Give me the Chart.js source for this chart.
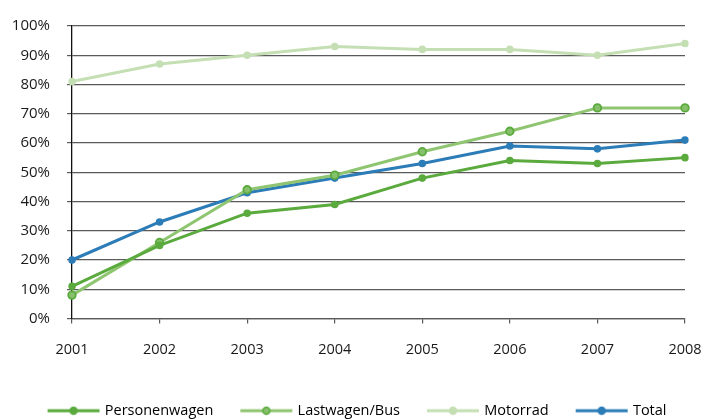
<!DOCTYPE html>
<html>
<head>
<meta charset="utf-8">
<script src="https://cdn.jsdelivr.net/npm/chart.js@4.4.1/dist/chart.umd.min.js"></script>
<style>
  html, body { margin: 0; padding: 0; background: #fff; }
  #wrap { width: 704px; height: 419px; }
</style>
</head>
<body>
<div id="wrap"><canvas id="chart"></canvas></div>
<script>
// data (percent)
const years = ['2001', '2002', '2003', '2004', '2005', '2006', '2007', '2008'];
const personenwagen = [11, 25, 36, 39, 48, 54, 53, 55];
const lastwagenBus = [8, 26, 44, 49, 57, 64, 72, 72];
const motorrad = [81, 87, 90, 93, 92, 92, 90, 94];
const total = [20, 33, 43, 48, 53, 59, 58, 61];
const seriesNames = ['Personenwagen', 'Lastwagen/Bus', 'Motorrad', 'Total'];

const FONT = "'Open Sans', 'DejaVu Sans', sans-serif";

// little line-with-dot images for the legend
function legendIcon(line, fill, border) {
    const c = document.createElement('canvas');
    const ratio = window.devicePixelRatio || 1;
    c.width = 54 * ratio;
    c.height = 12 * ratio;
    const g = c.getContext('2d');
    g.scale(ratio, ratio);
    g.strokeStyle = line;
    g.lineWidth = 3;
    g.beginPath();
    g.moveTo(1, 6);
    g.lineTo(53, 6);
    g.stroke();
    g.beginPath();
    g.arc(27, 6, 3.5, 0, Math.PI * 2);
    g.fillStyle = fill;
    g.fill();
    g.lineWidth = 1.5;
    g.strokeStyle = border;
    g.stroke();
    const img = new Image();
    img.src = c.toDataURL();
    img.width = 54;
    img.height = 12;
    return img;
}

const styles = [
    { line: '#5aaa3d', fill: '#5aaa3d', border: '#5aaa3d' },
    { line: '#8fc571', fill: '#86c06a', border: '#5aaa3d' },
    { line: '#c5dfb4', fill: '#c5dfb4', border: '#c5dfb4' },
    { line: '#2b7cb7', fill: '#2b7cb7', border: '#2b7cb7' }
];
const seriesData = [personenwagen, lastwagenBus, motorrad, total];

function makeDataset(i) {
    const s = styles[i];
    return {
        label: seriesNames[i],
        data: seriesData[i],
        borderColor: s.line,
        backgroundColor: s.fill,
        borderWidth: 3,
        pointRadius: 3.8,
        pointHoverRadius: 3.8,
        pointBackgroundColor: s.fill,
        pointBorderColor: s.border,
        pointBorderWidth: i === 1 ? 1.8 : 0,
        tension: 0
    };
}

const icons = styles.map(s => legendIcon(s.line, s.fill, s.border));

function start() {
    const ctx = document.getElementById('chart').getContext('2d');
    new Chart(ctx, {
        type: 'line',
        data: {
            labels: years,
            datasets: [makeDataset(0), makeDataset(1), makeDataset(2), makeDataset(3)]
        },
        options: {
            responsive: true,
            maintainAspectRatio: false,
            animation: false,
            layout: { padding: { top: 21, left: 12, right: 0, bottom: -9 } },
            plugins: {
                tooltip: { enabled: false },
                legend: {
                    position: 'bottom',
                    align: 'center',
                    labels: {
                        usePointStyle: true,
                        pointStyleWidth: 48,
                        padding: 29,
                        color: '#1a1a1a',
                        font: { family: FONT, size: 14.5 },
                        generateLabels: (chart) => chart.data.datasets.map((d, i) => ({
                            text: d.label,
                            pointStyle: icons[i],
                            fillStyle: d.backgroundColor,
                            strokeStyle: d.borderColor,
                            lineWidth: 0,
                            hidden: false,
                            datasetIndex: i
                        }))
                    }
                }
            },
            scales: {
                x: {
                    offset: false,
                    grid: {
                        drawOnChartArea: false,
                        drawTicks: true,
                        tickLength: 5,
                        color: '#5a5a5a',
                        lineWidth: 1.2
                    },
                    border: { display: true, color: '#5a5a5a', width: 1.2 },
                    ticks: {
                        padding: 18,
                        color: '#1a1a1a',
                        font: { family: FONT, size: 14.5 },
                        maxRotation: 0
                    },
                    afterFit: (scale) => {
                        scale.height = 56;
                        scale.paddingRight = 19;
                    }
                },
                y: {
                    min: 0,
                    max: 100,
                    grid: {
                        color: '#5a5a5a',
                        lineWidth: 1.2,
                        tickLength: 5
                    },
                    border: { display: true, color: '#111', width: 1.3 },
                    ticks: {
                        stepSize: 10,
                        padding: 17,
                        color: '#1a1a1a',
                        font: { family: FONT, size: 15 },
                        callback: (v) => v + '%'
                    },
                    afterFit: (scale) => { scale.width = 60; }
                }
            }
        }
    });
}

Promise.all(icons.map(img => img.complete ? Promise.resolve() : new Promise(r => { img.onload = r; img.onerror = r; })))
    .then(start);
</script>
</body>
</html>
